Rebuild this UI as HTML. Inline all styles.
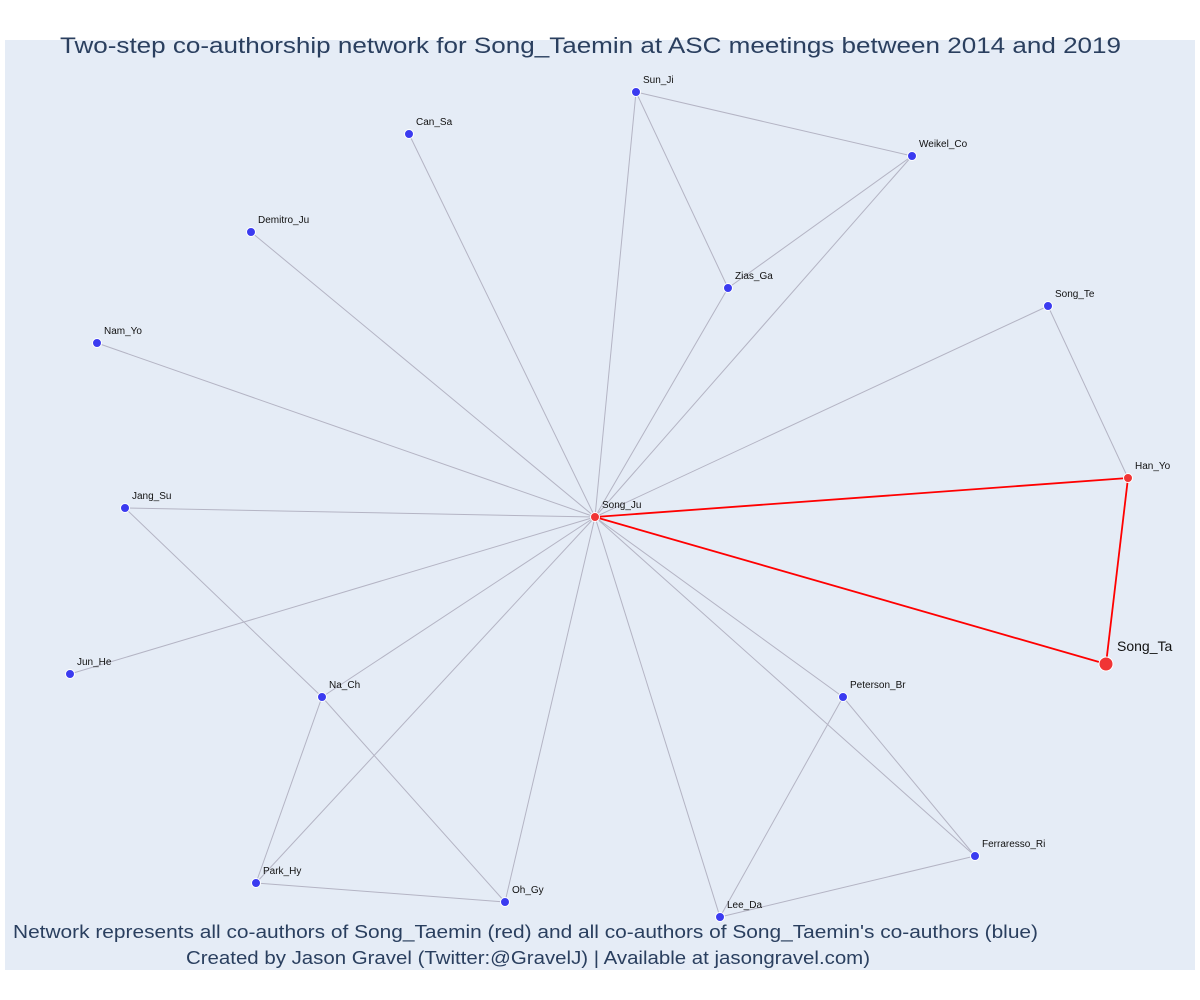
<!DOCTYPE html>
<html><head><meta charset="utf-8"><style>
html,body{margin:0;padding:0;background:#fff;}
svg{display:block;font-family:"Liberation Sans",sans-serif;}
</style></head><body>
<svg id="chart" width="1200" height="1000">
<rect x="5" y="40" width="1190" height="930" fill="#e5ecf6"/>
<g id="edges"></g>
<g id="nodes"></g>
<text x="60" y="53" font-size="22" fill="#2a3f5f" textLength="1061" lengthAdjust="spacingAndGlyphs">Two-step co-authorship network for Song_Taemin at ASC meetings between 2014 and 2019</text>
<text x="13" y="938" font-size="18" fill="#2a3f5f" textLength="1025" lengthAdjust="spacingAndGlyphs">Network represents all co-authors of Song_Taemin (red) and all co-authors of Song_Taemin's co-authors (blue)</text>
<text x="186" y="964" font-size="18" fill="#2a3f5f" textLength="684" lengthAdjust="spacingAndGlyphs">Created by Jason Gravel (Twitter:@GravelJ) | Available at jasongravel.com)</text>
</svg>
<script>
const nodeNames = ["Song_Ju","Song_Ta","Han_Yo","Sun_Ji","Weikel_Co","Can_Sa","Demitro_Ju","Zias_Ga","Song_Te","Nam_Yo","Jang_Su","Jun_He","Na_Ch","Peterson_Br","Ferraresso_Ri","Park_Hy","Oh_Gy","Lee_Da"];
const nodeX = [590,1101,1123,631,907,404,246,723,1043,92,120,65,317,838,970,251,500,715];
const nodeY = [477,624,438,52,116,94,192,248,266,303,468,634,657,657,816,843,862,877];
const nodeRed = [1,1,1,0,0,0,0,0,0,0,0,0,0,0,0,0,0,0];
const edgeFrom = ["Song_Ju","Song_Ju","Song_Ju","Song_Ju","Song_Ju","Song_Ju","Song_Ju","Song_Ju","Song_Ju","Song_Ju","Song_Ju","Song_Ju","Song_Ju","Song_Ju","Song_Ju","Sun_Ji","Sun_Ji","Weikel_Co","Song_Te","Jang_Su","Na_Ch","Na_Ch","Park_Hy","Peterson_Br","Peterson_Br","Lee_Da","Song_Ju","Song_Ju","Han_Yo"];
const edgeTo = ["Can_Sa","Demitro_Ju","Nam_Yo","Jang_Su","Jun_He","Na_Ch","Park_Hy","Oh_Gy","Lee_Da","Peterson_Br","Ferraresso_Ri","Song_Te","Weikel_Co","Zias_Ga","Sun_Ji","Weikel_Co","Zias_Ga","Zias_Ga","Han_Yo","Na_Ch","Park_Hy","Oh_Gy","Oh_Gy","Lee_Da","Ferraresso_Ri","Ferraresso_Ri","Han_Yo","Song_Ta","Song_Ta"];
const edgeRed = [0,0,0,0,0,0,0,0,0,0,0,0,0,0,0,0,0,0,0,0,0,0,0,0,0,0,1,1,1];

const xScale = v => 5 + v;
const yScale = v => 40 + v;
const NS = "http://www.w3.org/2000/svg";
const eg = document.getElementById("edges"), ng = document.getElementById("nodes");
const idx = n => nodeNames.indexOf(n);
edgeFrom.forEach((f,i)=>{
  const a = idx(f), b = idx(edgeTo[i]);
  const l = document.createElementNS(NS,"line");
  l.setAttribute("x1",xScale(nodeX[a])); l.setAttribute("y1",yScale(nodeY[a]));
  l.setAttribute("x2",xScale(nodeX[b])); l.setAttribute("y2",yScale(nodeY[b]));
  l.setAttribute("stroke", edgeRed[i] ? "#ff0000" : "#b4b4c4");
  l.setAttribute("stroke-width", edgeRed[i] ? 1.8 : 1);
  
  
  eg.appendChild(l);
});
nodeNames.forEach((n,i)=>{
  const cx = xScale(nodeX[i]), cy = yScale(nodeY[i]);
  const big = n === "Song_Ta";
  const c = document.createElementNS(NS,"circle");
  c.setAttribute("cx",cx); c.setAttribute("cy",cy);
  c.setAttribute("r", big ? 7 : 4.5);
  c.setAttribute("fill", nodeRed[i] ? "#f03535" : "#3b3bf0");
  c.setAttribute("stroke","#fff"); c.setAttribute("stroke-width",1);
  
  
  ng.appendChild(c);
  const t = document.createElementNS(NS,"text");
  t.setAttribute("x", cx + (big ? 11 : 7));
  t.setAttribute("y", cy - (big ? 13 : 9));
  t.setAttribute("font-size", big ? 14 : 10);
  t.setAttribute("fill","#111");
  t.textContent = n;
  
  
  ng.appendChild(t);
});
</script>
</body></html>
